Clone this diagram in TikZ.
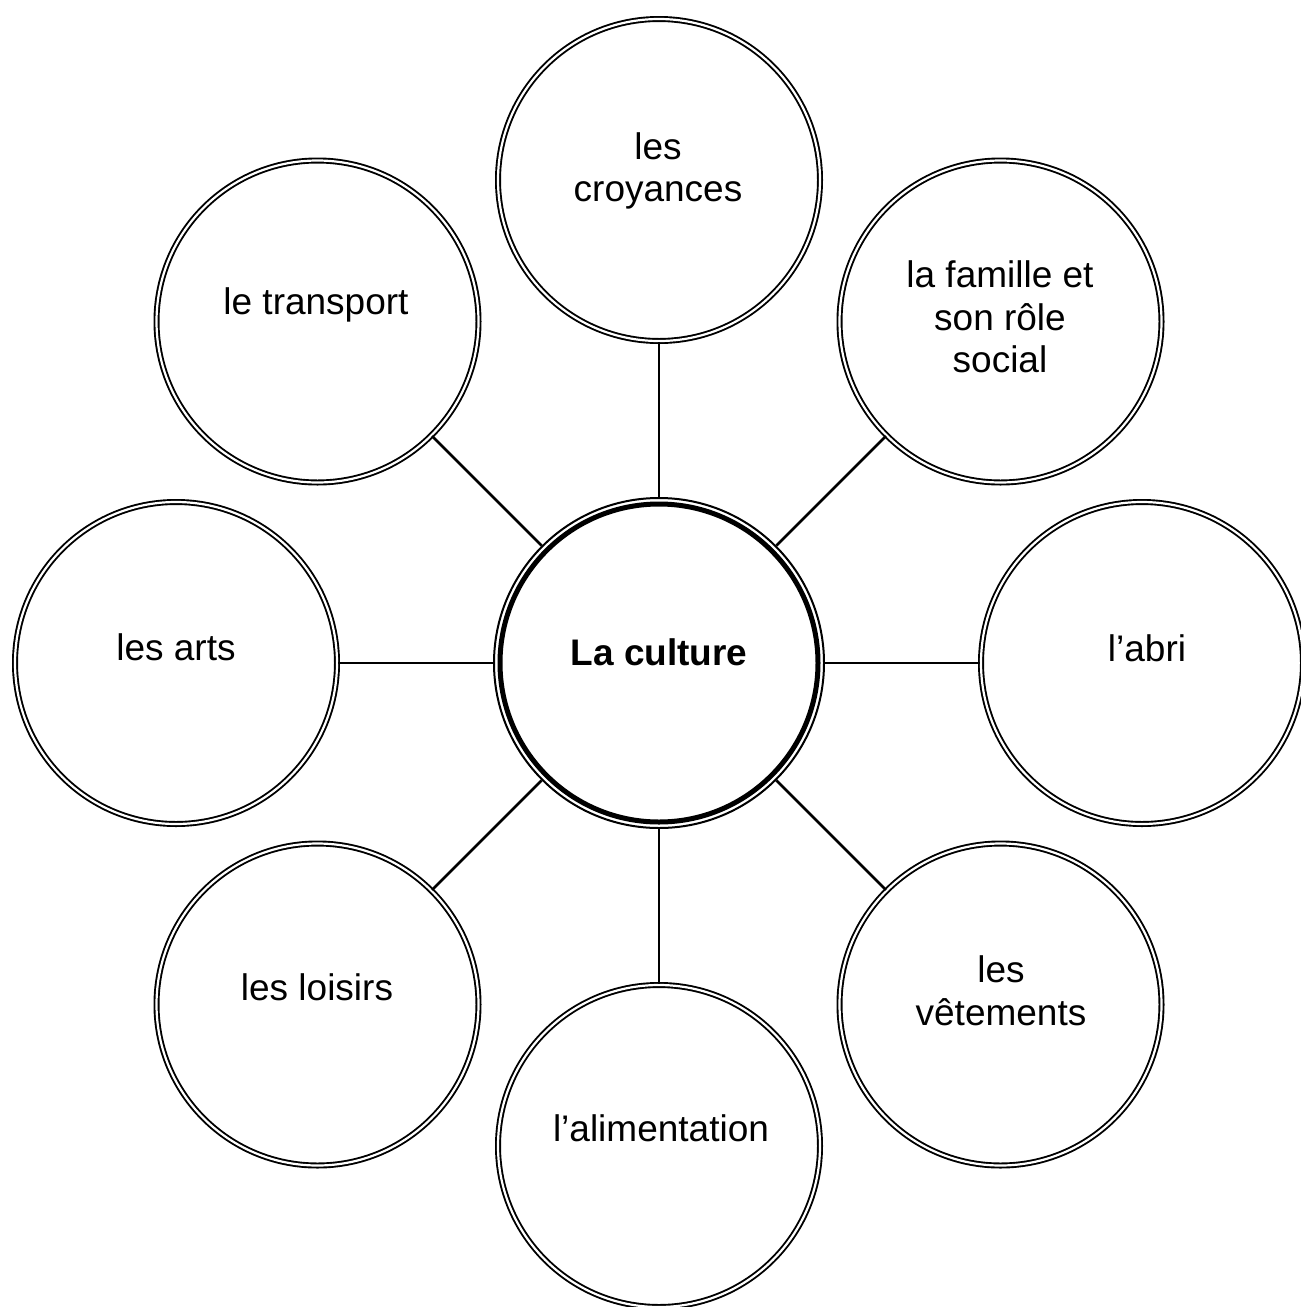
\documentclass[tikz,border=0pt]{standalone}
\usepackage{fontspec}
\setmainfont{Liberation Sans}
\begin{document}
\begin{tikzpicture}[x=1pt,y=-1pt,
  bubble/.style={circle, draw=black, line width=1.9pt, double=white, double distance=2.2pt, minimum size=322pt, inner sep=0pt},
  hub/.style={circle, draw=black, line width=2pt, minimum size=330pt, inner sep=0pt},
  label/.style={font=\fontsize{37}{42.5}\selectfont, align=center, inner sep=0pt, anchor=center},
  spoke/.style={draw=black, line width=2.6pt}]
\useasboundingbox (0,0) rectangle (1301,1307);
% centre
\node[hub] (c) at (659,663) {};
\draw[line width=5pt] (c.center) circle [radius=159pt];
% outer bubbles
\node[bubble] (top) at (659,180) {};
\node[bubble] (tr) at (1000.5,321.5) {};
\node[bubble] (r) at (1142,663) {};
\node[bubble] (br) at (1000.5,1004.5) {};
\node[bubble] (bot) at (659,1146) {};
\node[bubble] (bl) at (317.5,1004.5) {};
\node[bubble] (l) at (176,663) {};
\node[bubble] (tl) at (317.5,321.5) {};
% spokes
\foreach \n in {top,tr,r,br,bot,bl,l,tl} \draw[spoke] (c) -- (\n);
% labels
\node[label, font=\fontsize{37}{42.5}\selectfont\bfseries] (tc) at (659,652) {La culture};
\node[label] (ttop) at (658,171) {les\\croyances};
\node[label] (ttr) at (1000,317) {la famille et\\son rôle\\social};
\node[label] (tr2) at (1147,648) {l’abri};
\node[label] (tbr) at (1001,991) {les\\vêtements};
\node[label] (tbot) at (661,1128) {l’alimentation};
\node[label] (tbl) at (317,987) {les loisirs};
\node[label] (tl2) at (176,647) {les arts};
\node[label] (ttl) at (316,305) {le transport};
\end{tikzpicture}
\end{document}
